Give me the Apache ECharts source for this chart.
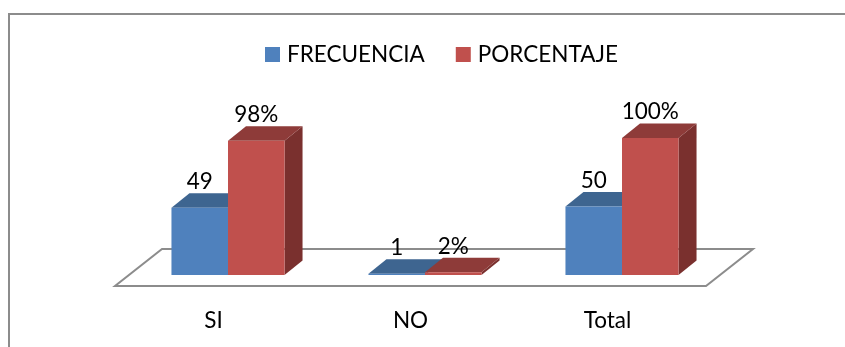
<!DOCTYPE html>
<html>
<head>
<meta charset="utf-8">
<style>html,body{margin:0;padding:0;background:#fff}#chart{width:845px;height:347px}</style>
<script src="https://cdn.jsdelivr.net/npm/echarts@6/dist/echarts.min.js"></script>
</head>
<body>
<div id="chart"></div>
<script>
const categories = ['SI', 'NO', 'Total'];
const frecuencia = [49, 1, 50];
const porcentaje = [98, 2, 100];

const FONT = 'Lato';
const FONT_SIZE = 22.5;
// Oblique projection of the 3D column chart, in pixels.
const DEPTH_X = 18, DEPTH_Y = 14.5;
const BASE_X = 14.5, BASE_Y = 11;
const BAR_RATIO = 0.287;

// Draws a column as three faces, sitting on the floor and offset to its side of the category centre.
function columnRenderer(side, front, top, flank, suffix) {
  return function (params, api) {
    const idx = api.value(0);
    const base = api.coord([idx, 0]);
    const head = api.coord([idx, api.value(1)]);
    const w = api.size([1, 0])[0] * BAR_RATIO;
    const x0 = base[0] + BASE_X + (side < 0 ? -w : 0);
    const x1 = x0 + w;
    const y0 = base[1], y1 = head[1];
    return {
      type: 'group',
      children: [
        { type: 'polygon', shape: { points: [[x1, y0], [x1 + DEPTH_X, y0 - DEPTH_Y], [x1 + DEPTH_X, y1 - DEPTH_Y], [x1, y1]] }, style: { fill: flank } },
        { type: 'polygon', shape: { points: [[x0, y1], [x1, y1], [x1 + DEPTH_X, y1 - DEPTH_Y], [x0 + DEPTH_X, y1 - DEPTH_Y]] }, style: { fill: top } },
        { type: 'rect', shape: { x: x0, y: y1, width: w, height: y0 - y1 }, style: { fill: front } },
        { type: 'text', style: { x: (x0 + x1) / 2, y: y1 - 26, text: api.value(1) + suffix, font: FONT_SIZE + 'px ' + FONT, fill: '#000', align: 'center', verticalAlign: 'middle' }, z2: 10 }
      ]
    };
  };
}

// The grey floor parallelogram under the columns, spanning the whole category axis.
function floorRenderer(params, api) {
  const c = params.coordSys;
  const yFront = c.y + c.height + BASE_Y;
  const yBack = yFront - 37;
  return {
    type: 'polygon',
    shape: { points: [[c.x, yFront], [c.x + c.width, yFront], [c.x + c.width + 47, yBack], [c.x + 47, yBack]] },
    style: { fill: 'none', stroke: '#8c8c8c', lineWidth: 2 }
  };
}

const chart = echarts.init(document.getElementById('chart'), null, { renderer: 'canvas' });
chart.setOption({
  animation: false,
  backgroundColor: '#fff',
  graphic: [
    { type: 'polyline', shape: { points: [[9, 347], [9, 14], [845, 14]] }, style: { fill: 'none', stroke: '#8c8c8c', lineWidth: 2 } }
  ],
  legend: {
    data: ['FRECUENCIA', 'PORCENTAJE'],
    top: 38,
    left: 260,
    icon: 'rect',
    itemWidth: 15,
    itemHeight: 15,
    itemGap: 31,
    textStyle: { fontFamily: FONT, fontSize: FONT_SIZE, color: '#000', padding: [0, 0, 0, 2] }
  },
  grid: { left: 115, width: 591, top: 138, height: 137 },
  xAxis: {
    type: 'category',
    data: categories,
    axisLine: { show: false },
    axisTick: { show: false },
    axisLabel: { fontFamily: FONT, fontSize: FONT_SIZE, color: '#000', margin: 34 }
  },
  yAxis: { type: 'value', min: 0, max: 100, show: false },
  series: [
    { type: 'custom', name: 'floor', data: [[0]], renderItem: floorRenderer, z: 1, silent: true },
    {
      type: 'custom', name: 'FRECUENCIA', z: 2, itemStyle: { color: '#4f81bd' },
      data: frecuencia.map((v, i) => [i, v]),
      encode: { x: 0, y: 1 },
      renderItem: columnRenderer(-1, '#4f81bd', '#3e6590', '#3a5f8a', '')
    },
    {
      type: 'custom', name: 'PORCENTAJE', z: 3, itemStyle: { color: '#c0504d' },
      data: porcentaje.map((v, i) => [i, v]),
      encode: { x: 0, y: 1 },
      renderItem: columnRenderer(1, '#c0504d', '#8e3b39', '#7a302e', '%')
    }
  ]
});
</script>
</body>
</html>
